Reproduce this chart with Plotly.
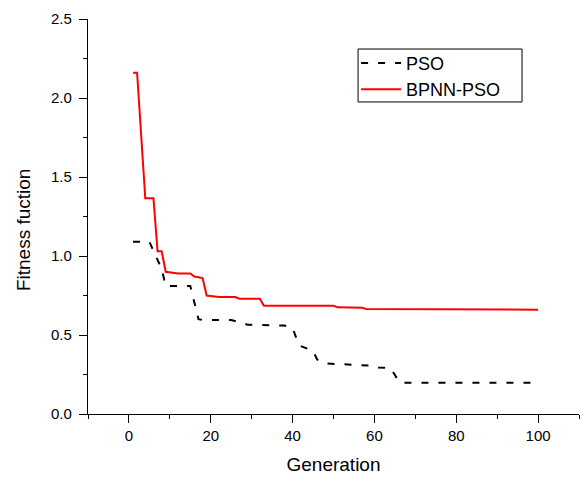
import plotly.graph_objects as go

# ---- data ----
pso_gen = [1, 5, 7, 8, 9, 15, 17, 18, 25, 29, 38, 40, 41.5, 42, 45, 46, 48, 55, 60, 61, 64, 66, 67, 99]
pso_fit = [1.09, 1.09, 0.975, 0.92, 0.81, 0.81, 0.60, 0.595, 0.595, 0.565, 0.56, 0.545, 0.44, 0.43, 0.40, 0.345, 0.32, 0.31, 0.305, 0.295, 0.29, 0.205, 0.198, 0.198]

bp_gen = [1, 2, 4, 6, 7, 8, 9, 12, 15, 16, 18, 19, 22, 26, 27, 32, 33, 50, 51, 57, 58, 80, 100]
bp_fit = [2.16, 2.16, 1.365, 1.365, 1.03, 1.03, 0.90, 0.89, 0.89, 0.87, 0.86, 0.75, 0.74, 0.74, 0.73, 0.73, 0.685, 0.685, 0.675, 0.672, 0.665, 0.66, 0.66]

x_ticks = [0, 20, 40, 60, 80, 100]
y_ticks = [0.0, 0.5, 1.0, 1.5, 2.0, 2.5]
y_tick_text = ["0.0", "0.5", "1.0", "1.5", "2.0", "2.5"]

FONT = "Liberation Sans, Arial, sans-serif"

fig = go.Figure()
fig.add_trace(go.Scatter(
    x=pso_gen, y=pso_fit, mode="lines", name="PSO",
    line=dict(color="black", width=2, dash="7px,10px"),
))
fig.add_trace(go.Scatter(
    x=bp_gen, y=bp_fit, mode="lines", name="BPNN-PSO",
    line=dict(color="#ff0000", width=2),
))

fig.update_layout(
    width=582, height=477,
    margin=dict(l=88, r=3, t=19, b=63),
    paper_bgcolor="white", plot_bgcolor="white",
    font=dict(family=FONT, color="black", size=15),
    showlegend=True,
    legend=dict(
        x=0.546, y=0.935, xanchor="left", yanchor="top",
        bgcolor="rgba(0,0,0,0)", borderwidth=0,
        font=dict(family=FONT, size=18, color="black"),
        tracegroupgap=0, itemwidth=40,
    ),
    shapes=[dict(
        type="rect", xref="paper", yref="paper",
        x0=0.550, x1=0.884, y0=0.790, y1=0.924,
        line=dict(color="black", width=1), fillcolor="rgba(0,0,0,0)",
        layer="below",
    )],
    xaxis=dict(
        range=[-10, 110], tickvals=x_ticks,
        showgrid=False, zeroline=False,
        showline=True, linecolor="black", linewidth=1.3,
        ticks="outside", ticklen=8, tickwidth=1.3, tickcolor="black",
        minor=dict(dtick=10, tick0=0, ticks="outside", ticklen=4, tickwidth=1.3, tickcolor="black"),
        tickfont=dict(family=FONT, size=15, color="black"),
        title=dict(text="Generation", font=dict(family=FONT, size=19, color="black"), standoff=14),
    ),
    yaxis=dict(
        range=[0, 2.5], tickvals=y_ticks, ticktext=y_tick_text,
        showgrid=False, zeroline=False,
        showline=True, linecolor="black", linewidth=1.3,
        ticks="outside", ticklen=8, tickwidth=1.3, tickcolor="black",
        minor=dict(dtick=0.25, tick0=0, ticks="outside", ticklen=4, tickwidth=1.3, tickcolor="black"),
        tickfont=dict(family=FONT, size=15, color="black"),
        ticklabelstandoff=4,
    ),
    annotations=[dict(
        text="Fitness fuction", textangle=-90,
        xref="paper", yref="paper", x=-0.130, y=0.466,
        xanchor="center", yanchor="middle", showarrow=False,
        font=dict(family=FONT, size=19, color="black"),
    )],
)

fig.write_html("out.html", config={"displayModeBar": False},
               post_script="document.body.style.margin='0';")
